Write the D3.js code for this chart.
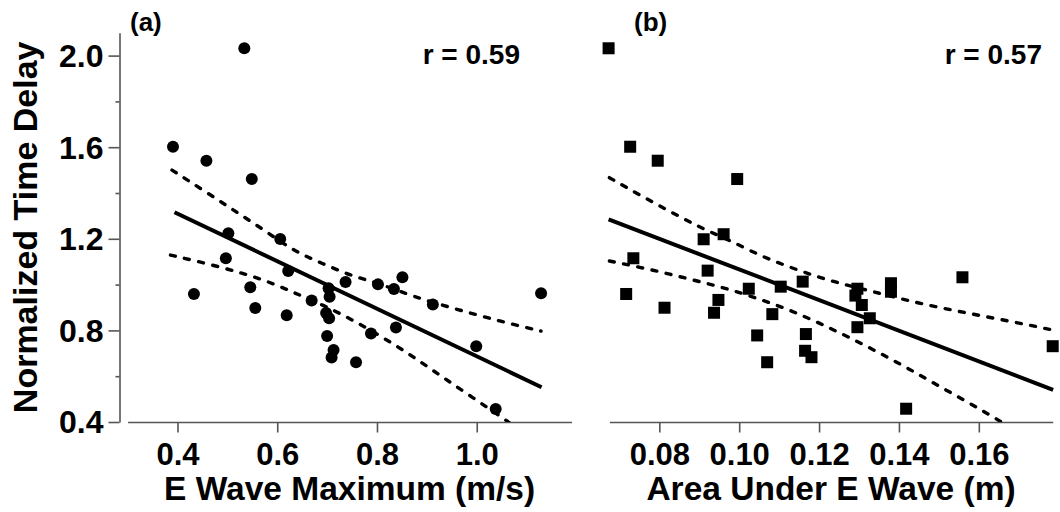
<!DOCTYPE html>
<html>
<head>
<meta charset="utf-8">
<script src="https://cdn.jsdelivr.net/npm/d3@7"></script>
<style>
  html, body { margin: 0; padding: 0; background: #fff; }
  svg { display: block; }
  text { font-family: "Liberation Sans", Arial, Helvetica, sans-serif; font-weight: bold; fill: #000; }
</style>
</head>
<body>
<svg id="chart" width="1060" height="512"></svg>
<script>
// ---------- data ----------
// Panel (a): E wave maximum (m/s) vs normalized time delay
const eWaveMax = [0.534,0.391,0.458,0.549,0.502,0.606,0.497,0.433,0.622,0.546,0.556,0.619,0.669,0.703,0.705,0.698,0.704,0.700,0.713,0.709,0.758,0.737,0.802,0.834,0.851,0.788,0.838,0.912,0.999,1.038,1.129];
const delayA   = [2.032,1.602,1.541,1.461,1.224,1.199,1.115,0.959,1.059,0.988,0.898,0.866,0.931,0.984,0.947,0.876,0.853,0.776,0.714,0.682,0.661,1.011,1.001,0.981,1.032,0.786,0.813,0.913,0.731,0.457,0.962];
// Panel (b): area under E wave (m) vs normalized time delay
const eWaveArea = [0.0673,0.0727,0.0796,0.0995,0.0911,0.0961,0.0735,0.0717,0.0921,0.0813,0.0948,0.0937,0.1024,0.1104,0.1083,0.1045,0.1070,0.1159,0.1167,0.1165,0.1181,0.1296,0.1291,0.1307,0.1327,0.1296,0.1380,0.1380,0.1559,0.1785,0.1418];
const delayB    = [2.032,1.602,1.541,1.461,1.198,1.220,1.115,0.959,1.061,0.899,0.933,0.877,0.982,0.991,0.871,0.778,0.661,1.013,0.784,0.711,0.683,0.982,0.952,0.911,0.853,0.814,1.006,0.969,1.032,0.731,0.458];

// regression lines
const fitAx = [0.394, 1.130], fitAy = [1.316, 0.552];
const fitBx = [0.0673, 0.1786], fitBy = [1.285, 0.540];

// 95% confidence bands
const upperAx = [0.389,0.454,0.514,0.574,0.635,0.690,0.748,0.804,0.873,0.960,1.050,1.129];
const upperAy = [1.500,1.409,1.323,1.238,1.144,1.093,1.038,1.006,0.947,0.892,0.838,0.797];
const lowerAx = [0.386,0.486,0.576,0.632,0.692,0.752,0.813,0.873,0.930,0.990,1.053,1.070];
const lowerAy = [1.129,1.078,1.020,0.966,0.911,0.845,0.768,0.685,0.598,0.510,0.416,0.390];
const upperBx = [0.0675,0.0751,0.0825,0.0903,0.0975,0.1053,0.1127,0.1202,0.1275,0.1352,0.1423,0.1498,0.1573,0.1648,0.1724,0.1784];
const upperBy = [1.467,1.391,1.321,1.248,1.195,1.125,1.076,1.030,0.995,0.962,0.930,0.901,0.875,0.850,0.824,0.802];
const lowerBx = [0.0675,0.0751,0.0826,0.0901,0.0977,0.1052,0.1127,0.1202,0.1275,0.1350,0.1423,0.1498,0.1573,0.1646,0.1670];
const lowerBy = [1.103,1.076,1.046,1.013,0.979,0.936,0.889,0.831,0.770,0.703,0.634,0.559,0.486,0.412,0.385];

// ticks and labels
const yMajorTicks = [0.4, 0.8, 1.2, 1.6, 2.0];
const yMinorTicks = [0.6, 1.0, 1.4, 1.8];
const xTicksA = [0.4, 0.6, 0.8, 1.0];
const xTicksB = [0.08, 0.10, 0.12, 0.14, 0.16];
const yTitle = "Normalized Time Delay";
const xTitleA = "E Wave Maximum (m/s)";
const xTitleB = "Area Under E Wave (m)";
const panelLabels = ["(a)", "(b)"];
const rLabels = ["r = 0.59", "r = 0.57"];

// ---------- layout ----------
const svg = d3.select("#chart");
const yAxisX = 119.5;
const y = d3.scaleLinear().domain([0.4, 2.1]).range([422, 32.7]);
const xa = d3.scaleLinear().domain([0.3, 1.19]).range([127.6, 571.5]);
const xb = d3.scaleLinear().domain([0.0675, 0.1785]).range([609.4, 1052.7]);
const axisColor = "#555";

// clip region (plot area above x axis)
const defs = svg.append("defs");
defs.append("clipPath").attr("id", "clipA").append("rect")
  .attr("x", 120).attr("y", 0).attr("width", 460).attr("height", 422);
defs.append("clipPath").attr("id", "clipB").append("rect")
  .attr("x", 600).attr("y", 0).attr("width", 460).attr("height", 422);

// y axis (panel a only)
const gy = svg.append("g").attr("transform", `translate(${yAxisX},0)`)
  .call(d3.axisLeft(y).tickValues(yMajorTicks).tickSize(11).tickSizeOuter(0)
    .tickPadding(5).tickFormat(d3.format(".1f")));
gy.selectAll(".tick text").attr("font-size", 32).attr("dy", "0.34em")
  .style("font-family", '"Liberation Sans", Arial, sans-serif').style("font-weight", "bold").attr("fill", "#000");
const gyMinor = svg.append("g").attr("transform", `translate(${yAxisX},0)`)
  .call(d3.axisLeft(y).tickValues(yMinorTicks).tickSize(4).tickSizeOuter(0).tickFormat(""));
gyMinor.select(".domain").remove();

// x axes
function xAxis(scale, ticks, fmt) {
  const g = svg.append("g").attr("transform", "translate(0,422)")
    .call(d3.axisBottom(scale).tickValues(ticks).tickSize(10.5).tickSizeOuter(0)
      .tickPadding(10).tickFormat(d3.format(fmt)));
  g.selectAll(".tick text").attr("font-size", 31)
    .style("font-family", '"Liberation Sans", Arial, sans-serif').style("font-weight", "bold").attr("fill", "#000");
  return g;
}
const gxa = xAxis(xa, xTicksA, ".1f");
const gxb = xAxis(xb, xTicksB, ".2f");

[gy, gyMinor, gxa, gxb].forEach(g => {
  g.selectAll(".domain, .tick line").attr("stroke", axisColor).attr("stroke-width", 1.6);
});

// titles
svg.append("text").attr("transform", `translate(37,${(422 + 32.7) / 2}) rotate(-90)`)
  .attr("text-anchor", "middle").attr("font-size", 34).text(yTitle);
svg.append("text").attr("x", (127.6 + 571.5) / 2).attr("y", 499.5)
  .attr("text-anchor", "middle").attr("font-size", 33.5).text(xTitleA);
svg.append("text").attr("x", (609.4 + 1052.7) / 2).attr("y", 499.5)
  .attr("text-anchor", "middle").attr("font-size", 33.5).text(xTitleB);

svg.append("text").attr("x", 130).attr("y", 31).attr("font-size", 26).text(panelLabels[0]);
svg.append("text").attr("x", 634).attr("y", 31).attr("font-size", 26).text(panelLabels[1]);
svg.append("text").attr("x", 520).attr("y", 63.5).attr("text-anchor", "end").attr("font-size", 28).text(rLabels[0]);
svg.append("text").attr("x", 1042).attr("y", 63.5).attr("text-anchor", "end").attr("font-size", 28).text(rLabels[1]);

// ---------- lines ----------
function drawPanel(xs, clipId, fx, fy, ux, uy, lx, ly) {
  const g = svg.append("g").attr("clip-path", `url(#${clipId})`);
  const line = d3.line().x(d => xs(d[0])).y(d => y(d[1])).curve(d3.curveBasis);
  const straight = d3.line().x(d => xs(d[0])).y(d => y(d[1]));
  g.append("path").datum(d3.zip(fx, fy)).attr("d", straight)
    .attr("fill", "none").attr("stroke", "#000").attr("stroke-width", 4);
  [[ux, uy], [lx, ly]].forEach(([bx, by]) => {
    g.append("path").datum(d3.zip(bx, by)).attr("d", line)
      .attr("fill", "none").attr("stroke", "#000").attr("stroke-width", 3.4)
      .attr("stroke-dasharray", "5,9.5").attr("stroke-linecap", "round");
  });
}
drawPanel(xa, "clipA", fitAx, fitAy, upperAx, upperAy, lowerAx, lowerAy);
drawPanel(xb, "clipB", fitBx, fitBy, upperBx, upperBy, lowerBx, lowerBy);

// ---------- points ----------
svg.append("g").selectAll("circle").data(d3.zip(eWaveMax, delayA)).join("circle")
  .attr("cx", d => xa(d[0])).attr("cy", d => y(d[1])).attr("r", 6).attr("fill", "#000");
const sq = 12;
svg.append("g").selectAll("rect").data(d3.zip(eWaveArea, delayB)).join("rect")
  .attr("x", d => xb(d[0]) - sq / 2).attr("y", d => y(d[1]) - sq / 2)
  .attr("width", sq).attr("height", sq).attr("fill", "#000");
</script>
</body>
</html>
